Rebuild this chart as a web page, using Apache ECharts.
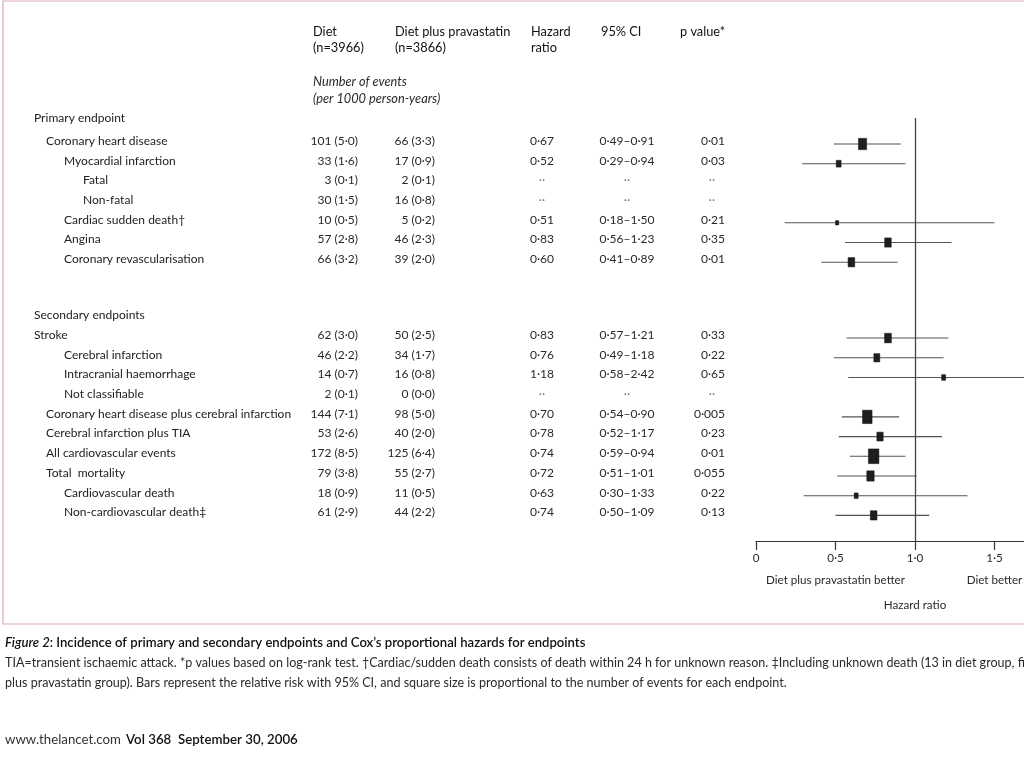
<!DOCTYPE html>
<html><head><meta charset="utf-8"><title>Figure 2</title>
<script src="https://cdn.jsdelivr.net/npm/echarts@6/dist/echarts.min.js"></script>
<style>html,body{margin:0;padding:0;background:#fff;overflow:hidden}#chart{width:1024px;height:768px}</style>
</head><body><div id="chart"></div>
<script>
// ---------------- data ----------------
const rowLabels = ['Primary endpoint','Coronary heart disease','Myocardial infarction','Fatal','Non-fatal',
  'Cardiac sudden death\u2020','Angina','Coronary revascularisation','Secondary endpoints','Stroke',
  'Cerebral infarction','Intracranial haemorrhage','Not classifiable',
  'Coronary heart disease plus cerebral infarction','Cerebral infarction plus TIA','All cardiovascular events',
  'Total  mortality','Cardiovascular death','Non-cardiovascular death\u2021'];
const rowLevels   = [0,1,2,3,3,2,2,2,0,0,2,2,2,1,1,1,1,2,2];
const dietEvents  = [null,101,33,3,30,10,57,66,null,62,46,14,2,144,53,172,79,18,61];
const dietRates   = [null,5.0,1.6,0.1,1.5,0.5,2.8,3.2,null,3.0,2.2,0.7,0.1,7.1,2.6,8.5,3.8,0.9,2.9];
const pravaEvents = [null,66,17,2,16,5,46,39,null,50,34,16,0,98,40,125,55,11,44];
const pravaRates  = [null,3.3,0.9,0.1,0.8,0.2,2.3,2.0,null,2.5,1.7,0.8,0.0,5.0,2.0,6.4,2.7,0.5,2.2];
const hazardRatios= [null,0.67,0.52,null,null,0.51,0.83,0.60,null,0.83,0.76,1.18,null,0.70,0.78,0.74,0.72,0.63,0.74];
const ciLower     = [null,0.49,0.29,null,null,0.18,0.56,0.41,null,0.57,0.49,0.58,null,0.54,0.52,0.59,0.51,0.30,0.50];
const ciUpper     = [null,0.91,0.94,null,null,1.50,1.23,0.89,null,1.21,1.18,2.42,null,0.90,1.17,0.94,1.01,1.33,1.09];
const pValues     = [null,0.01,0.03,null,null,0.21,0.35,0.01,null,0.33,0.22,0.65,null,0.005,0.23,0.01,0.055,0.22,0.13];

const xTickValues = [0, 0.5, 1, 1.5, 2];
const xTickLabels = ['0','0\u00b75','1\u00b70','1\u00b75','2\u00b70'];
const favourTicks = [0.5, 1.5];
const favourLabels = ['Diet plus pravastatin better','Diet better'];
const axisTitle = 'Hazard ratio';

const headerColumns = [['Diet','(n=3966)'],['Diet plus pravastatin','(n=3866)'],['Hazard','ratio'],['95% CI'],['p value*']];
const subHeader = ['Number of events','(per 1000 person-years)'];
const captionTitleItalic = 'Figure 2';
const captionTitle = ': Incidence of primary and secondary endpoints and Cox\u2019s proportional hazards for endpoints';
const captionLines = [
  'TIA=transient ischaemic attack. *p values based on log-rank test. \u2020Cardiac/sudden death consists of death within 24 h for unknown reason. \u2021Including unknown death (13 in diet group, five in diet',
  'plus pravastatin group). Bars represent the relative risk with 95% CI, and square size is proportional to the number of events for each endpoint.'
];
const footerSite = 'www.thelancet.com';
const footerIssue = 'Vol 368  September 30, 2006';

// ---------------- fonts ----------------
const mctx = document.createElement('canvas').getContext('2d');
function tw(text, font){ mctx.font = font; return mctx.measureText(text).width; }
function hasFont(f){
  const s = 'abcdefghijklmnopqrstuvwxyz0123456789';
  return Math.abs(tw(s, '40px "' + f + '", monospace') - tw(s, '40px monospace')) > 0.5;
}
const FAMILY = hasFont('Liberation Sans Narrow') ? '"Liberation Sans Narrow", Lato, sans-serif' : 'Lato, "Liberation Sans", sans-serif';
function fit(text, target, weight, style){
  const m = tw(text, (style||'normal') + ' ' + (weight||'normal') + ' 20px ' + FAMILY);
  return 20 * target / m;
}
const tableSize   = fit('Coronary heart disease plus cerebral infarction', 236) * 1.04;
const headerSize  = fit('Diet plus pravastatin', 112) * 1.03;
const captionSize = fit(captionLines[1], 782);
const titleSize   = fit('Figure 2: Incidence of primary and secondary endpoints and Cox\u2019s proportional hazards for endpoints', 583, 600);
const footSize    = fit(footerSite, 116);
const footBoldSize= fit(footerIssue, 172, 600);
const axisSize    = fit(favourLabels[0], 139);

// ---------------- layout helpers ----------------
const secondaryStart = rowLabels.indexOf('Secondary endpoints');
const SECTION_GAP = 1.85;
function rowPos(i){ return i + (i >= secondaryStart ? SECTION_GAP : 0); }
const levelX = [34, 46, 64, 83];
const COL = {diet: 358, prava: 435, hr: 542, ci: 627, p: 725, pMissing: 712};
const fmt1 = v => v.toFixed(1).replace('.', '\u00b7');
const fmt2 = v => v.toFixed(2).replace('.', '\u00b7');
const fmtP = v => String(v).replace('.', '\u00b7');
const DOTS = '\u00b7\u00b7';

function textEl(x, y, text, align, color, size, extra){
  return {
    type: 'text', x: x, y: y,
    style: Object.assign({
      text: text, fill: color, fontSize: size, fontFamily: FAMILY,
      align: align, textAlign: align, verticalAlign: 'middle', textVerticalAlign: 'middle'
    }, extra || {})
  };
}

function renderRow(params, api){
  const i = params.dataIndex;
  const yv = api.value(1);
  const y = api.coord([0, yv])[1];
  const ty = y - 3 - (i === 0 ? 3 : 0);
  const kids = [];
  kids.push(textEl(levelX[rowLevels[i]], ty, rowLabels[i], 'left', '#222', tableSize));
  if (dietEvents[i] != null){
    kids.push(textEl(COL.diet, ty, dietEvents[i] + ' (' + fmt1(dietRates[i]) + ')', 'right', '#2a2a2a', tableSize));
    kids.push(textEl(COL.prava, ty, pravaEvents[i] + ' (' + fmt1(pravaRates[i]) + ')', 'right', '#2a2a2a', tableSize));
    if (hazardRatios[i] != null){
      kids.push(textEl(COL.hr, ty, fmt2(hazardRatios[i]), 'center', '#2a2a2a', tableSize));
      kids.push(textEl(COL.ci, ty, fmt2(ciLower[i]) + '\u2013' + fmt2(ciUpper[i]), 'center', '#2a2a2a', tableSize));
      kids.push(textEl(COL.p, ty, fmtP(pValues[i]), 'right', '#2a2a2a', tableSize));
      const lo = api.coord([ciLower[i], yv]);
      const hi = api.coord([ciUpper[i], yv]);
      const c  = api.coord([hazardRatios[i], yv]);
      kids.push({type:'line', shape:{x1: lo[0], y1: y, x2: hi[0], y2: y}, style:{stroke:'#555', lineWidth:1.1}});
      const n = dietEvents[i] + pravaEvents[i];
      const bw = 0.55 * Math.sqrt(n) + 1;
      const bh = bw * 1.4;
      kids.push({type:'rect', shape:{x: c[0] - bw/2, y: y - bh/2, width: bw, height: bh}, style:{fill:'#1e1e1e', stroke:'#111', lineWidth:0.5}});
    } else {
      kids.push(textEl(COL.hr, ty, DOTS, 'center', '#777', tableSize));
      kids.push(textEl(COL.ci, ty, DOTS, 'center', '#777', tableSize));
      kids.push(textEl(COL.pMissing, ty, DOTS, 'center', '#777', tableSize));
    }
  }
  return {type:'group', children: kids};
}

// ---------------- graphic (headers, caption, frame) ----------------
const graphics = [];
graphics.push({type:'rect', shape:{x:3, y:1, width:1200, height:623}, style:{fill:'none', stroke:'#dba9c6', lineWidth:1.2}, z:0});
const headerX = [313, 395, 531, 601, 680];
const headerY = [32, 48];
headerColumns.forEach((lines, c) => lines.forEach((t, r) => {
  graphics.push(textEl(headerX[c], headerY[r], t, 'left', '#111', headerSize));
}));
subHeader.forEach((t, r) => graphics.push(textEl(313, 82 + r*17, t, 'left', '#2a2a2a', headerSize, {fontStyle:'italic'})));
graphics.push({type:'text', x:5, y:643, style:{
  text: '{i|' + captionTitleItalic + '}{b|' + captionTitle + '}',
  rich: {i:{fontStyle:'italic', fontWeight:600, fontSize:titleSize, fontFamily:FAMILY, fill:'#111'},
         b:{fontWeight:600, fontSize:titleSize, fontFamily:FAMILY, fill:'#111'}},
  align:'left', textAlign:'left', verticalAlign:'middle', textVerticalAlign:'middle'}});
captionLines.forEach((t, r) => graphics.push(textEl(5, 663 + r*20, t, 'left', '#2a2a2a', captionSize)));
graphics.push(textEl(5, 740, footerSite, 'left', '#333', footSize));
graphics.push(textEl(126, 740, footerIssue, 'left', '#111', footBoldSize, {fontWeight:600}));

// ---------------- chart ----------------
const chart = echarts.init(document.getElementById('chart'), null, {renderer:'canvas'});
chart.setOption({
  animation: false,
  backgroundColor: '#fff',
  grid: {left: 756, top: 118, width: 318, height: 423, containLabel: false, outerBoundsMode: 'none'},
  xAxis: [{
    type: 'value', min: 0, max: 2, interval: 0.5, position: 'bottom',
    axisLine: {show: true, onZero: false, lineStyle: {color: '#333', width: 1.2}},
    axisTick: {show: true, inside: false, length: 9, lineStyle: {color: '#333', width: 1.2}},
    splitLine: {show: false},
    axisLabel: {margin: 11, color: '#2a2a2a', fontSize: axisSize, fontFamily: FAMILY,
      formatter: v => { const k = xTickValues.indexOf(v); return k >= 0 ? xTickLabels[k] : ''; }},
    name: axisTitle, nameLocation: 'middle', nameGap: 58,
    nameTextStyle: {color: '#2a2a2a', fontSize: axisSize, fontFamily: FAMILY}
  }, {
    type: 'value', min: 0, max: 2, interval: 0.5, position: 'bottom',
    axisLine: {show: false}, axisTick: {show: false}, splitLine: {show: false},
    axisLabel: {margin: 33, color: '#2a2a2a', fontSize: axisSize, fontFamily: FAMILY,
      formatter: v => { const k = favourTicks.indexOf(v); return k >= 0 ? favourLabels[k] : ''; }}
  }],
  yAxis: {type: 'value', inverse: true, min: -0.32, max: 21.15, show: false},
  graphic: {elements: graphics},
  series: [{
    type: 'custom', xAxisIndex: 0, yAxisIndex: 0, clip: false, silent: true,
    renderItem: renderRow,
    encode: {x: 0, y: 1},
    data: rowLabels.map((_, i) => [hazardRatios[i] == null ? 1 : hazardRatios[i], rowPos(i)]),
    markLine: {
      silent: true, symbol: ['none','none'], label: {show: false},
      lineStyle: {color: '#444', width: 1.3, type: 'solid'},
      data: [{xAxis: 1}]
    }
  }]
});
</script></body></html>
